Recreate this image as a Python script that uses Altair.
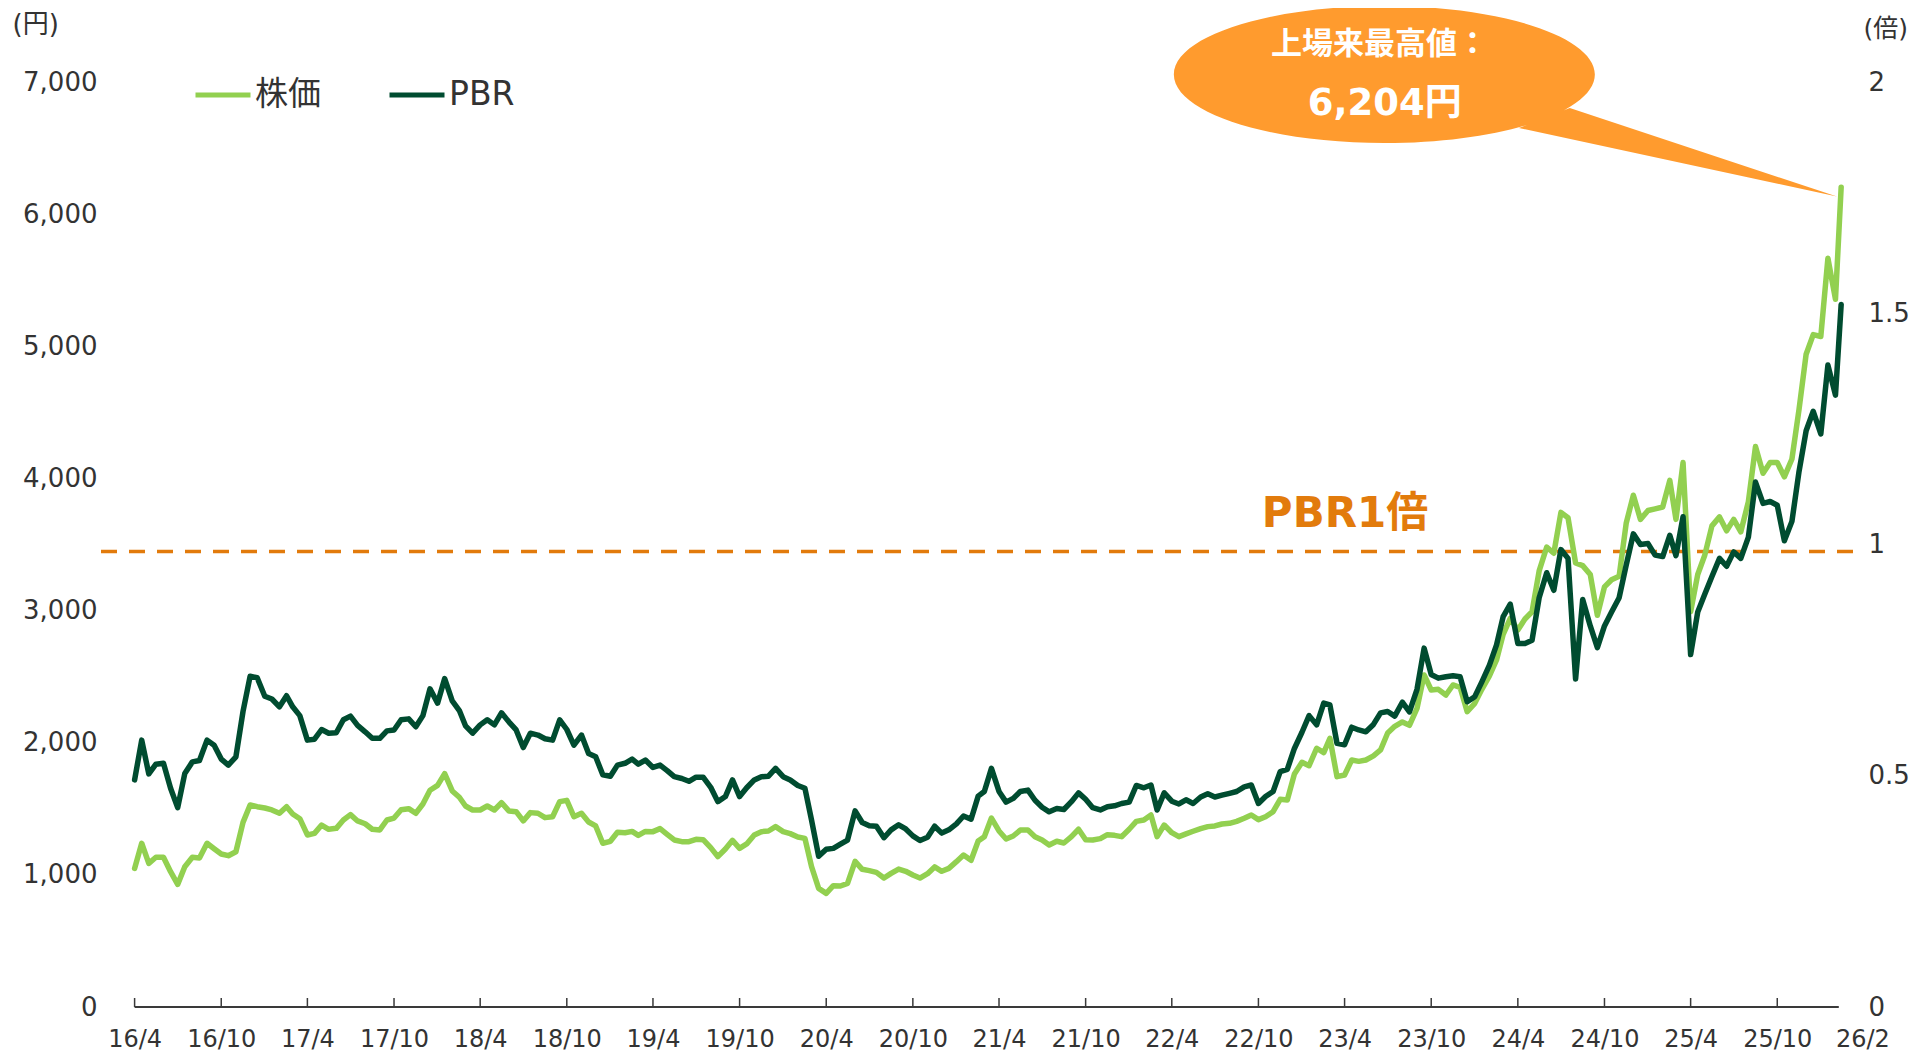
import altair as alt
import pandas as pd

# ---------------- data ----------------
# semi-monthly observations (1st and 16th of each month) from 2016-04-01, plus the last day
START_YEAR, START_MONTH = 2016, 4
LAST_DATE = "2026-02-13"

price = [
    1049, 1239, 1087, 1133, 1133, 1024, 928, 1062, 1133, 1128,
    1239, 1198, 1158, 1145, 1175, 1397, 1529, 1516, 1506, 1491,
    1466, 1516, 1461, 1425, 1302, 1314, 1377, 1345, 1352, 1415,
    1456, 1408, 1387, 1345, 1340, 1415, 1430, 1493, 1501, 1466,
    1536, 1640, 1677, 1766, 1635, 1587, 1521, 1491, 1491,
    1521, 1491, 1546, 1483, 1478, 1408, 1471, 1466, 1433, 1440,
    1554, 1564, 1440, 1466, 1400, 1370, 1239, 1254, 1322, 1319,
    1329, 1299, 1329, 1327, 1350, 1307, 1264, 1251, 1251, 1269,
    1266, 1206, 1138, 1196, 1261, 1201, 1234, 1302, 1327, 1332,
    1365, 1327, 1312, 1286, 1276, 1062, 898, 860, 918,
    916, 936, 1102, 1042, 1032, 1019, 976, 1011, 1044, 1027,
    999, 976, 1009, 1060, 1027, 1049, 1100, 1150, 1110, 1256,
    1289, 1430, 1332, 1271, 1294, 1339, 1339, 1289, 1264, 1226,
    1254, 1241, 1289, 1345, 1266, 1264, 1274, 1304, 1299, 1289,
    1345, 1405, 1415, 1453, 1289, 1377, 1319, 1289,
    1310, 1330, 1350, 1365, 1370, 1385, 1390, 1405,
    1428, 1453, 1418, 1440, 1478, 1572, 1567, 1763, 1852, 1826,
    1958, 1925, 2033, 1743, 1756, 1869, 1859, 1869, 1900, 1945,
    2074, 2124, 2157, 2132, 2260, 2513, 2399, 2404, 2361, 2437,
    2419, 2235, 2298, 2404, 2505, 2626, 2820, 2941, 2853, 2936,
    2991, 3300, 3480, 3434, 3743, 3703, 3360, 3340, 3273, 2964,
    3179, 3233, 3260, 3663, 3873, 3690, 3757, 3770, 3784, 3985,
    3690, 4120, 2991, 3273, 3421, 3641, 3709, 3604, 3690, 3596,
    3824, 4241, 4039, 4120, 4120, 4012, 4147, 4523, 4940, 5088,
    5074, 5666, 5356, 6204,
]

pbr = [
    0.491, 0.577, 0.504, 0.525, 0.527, 0.473, 0.431, 0.505, 0.530, 0.533,
    0.577, 0.566, 0.536, 0.523, 0.541, 0.639, 0.715, 0.712, 0.672, 0.666,
    0.649, 0.673, 0.649, 0.630, 0.577, 0.579, 0.600, 0.592, 0.593, 0.621,
    0.629, 0.609, 0.595, 0.581, 0.581, 0.597, 0.599, 0.621, 0.623, 0.606,
    0.630, 0.688, 0.657, 0.710, 0.662, 0.641, 0.608, 0.592, 0.610,
    0.621, 0.610, 0.636, 0.616, 0.599, 0.561, 0.592, 0.588, 0.580, 0.577,
    0.621, 0.600, 0.566, 0.588, 0.548, 0.541, 0.502, 0.499, 0.523, 0.527,
    0.536, 0.525, 0.534, 0.518, 0.523, 0.511, 0.498, 0.494, 0.488, 0.497,
    0.497, 0.475, 0.444, 0.455, 0.491, 0.455, 0.474, 0.491, 0.498, 0.499,
    0.516, 0.498, 0.491, 0.479, 0.473, 0.404, 0.326, 0.341, 0.343,
    0.352, 0.361, 0.424, 0.399, 0.392, 0.391, 0.366, 0.383, 0.394, 0.385,
    0.370, 0.360, 0.367, 0.391, 0.376, 0.383, 0.396, 0.413, 0.406, 0.456,
    0.466, 0.516, 0.466, 0.443, 0.451, 0.466, 0.469, 0.447, 0.432, 0.422,
    0.429, 0.427, 0.444, 0.463, 0.449, 0.431, 0.426, 0.433, 0.435, 0.440,
    0.443, 0.479, 0.474, 0.480, 0.426, 0.463, 0.445, 0.439,
    0.448, 0.440, 0.454, 0.461, 0.454, 0.458, 0.462, 0.466,
    0.476, 0.480, 0.440, 0.455, 0.466, 0.509, 0.514, 0.559, 0.594, 0.630,
    0.610, 0.657, 0.653, 0.570, 0.567, 0.605, 0.599, 0.595, 0.611, 0.636,
    0.639, 0.629, 0.659, 0.638, 0.687, 0.776, 0.719, 0.711, 0.714, 0.716,
    0.714, 0.660, 0.671, 0.703, 0.739, 0.783, 0.844, 0.871, 0.786, 0.786,
    0.793, 0.885, 0.939, 0.901, 0.989, 0.970, 0.709, 0.881, 0.824, 0.777,
    0.824, 0.854, 0.885, 0.956, 1.023, 1.000, 1.002, 0.977, 0.974, 1.020,
    0.976, 1.060, 0.762, 0.854, 0.893, 0.931, 0.970, 0.953, 0.984, 0.970,
    1.016, 1.135, 1.089, 1.093, 1.085, 1.008, 1.050, 1.158, 1.246, 1.288,
    1.239, 1.388, 1.323, 1.519,
]

series_names = ["株価", "PBR"]
left_ticks = [0, 1000, 2000, 3000, 4000, 5000, 6000, 7000]
right_ticks = [0, 0.5, 1, 1.5, 2]
pbr_line_value = 0.985          # dashed "PBR 1x" line, as drawn in the reference
annot_texts = ["上場来最高値：", "6,204円"]
pbr_label_text = "PBR1倍"

# ---------------- build tables ----------------
dates = []
for k in range(len(price) - 1):
    m = START_MONTH - 1 + k // 2
    dates.append(f"{START_YEAR + m // 12:04d}-{m % 12 + 1:02d}-{1 if k % 2 == 0 else 16:02d}")
dates.append(LAST_DATE)
assert len(dates) == len(price) == len(pbr)

price_df = pd.DataFrame({"date": dates, "value": price, "series": series_names[0]})
pbr_df = pd.DataFrame({"date": dates, "value": pbr, "series": series_names[1]})

tick_dates = [f"{y}-{m:02d}-01" for y in range(2016, 2026) for m in (4, 10)]
ticks_df = pd.DataFrame({"date": tick_dates})
label_dates = tick_dates + ["2026-02-01"]


def ms(s):
    return int(pd.Timestamp(s).value // 10**6)


X_DOMAIN = [ms("2016-01-02"), ms("2026-03-10")]
Y_PRICE = [0, 7560]
Y_PBR = [0, 2.16]

FONT = "DejaVu Sans, Noto Sans CJK JP"
TXT = "#333333"
LIGHT = "#92D050"
DARK = "#004C30"
ORANGE = "#E27B0C"
BUBBLE = "#FF9B2E"
LW = 5.5

x_axis = alt.Axis(
    values=[ms(d) for d in label_dates],
    labelExpr="utcFormat(datum.value, '%y/%-m')",
    ticks=False, domain=False, grid=False, labelOverlap=False, labelFlush=False,
    labelPadding=20, labelFontSize=24, labelFont=FONT, labelColor=TXT, title=None,
    labelAlign={"condition": {"test": "utcyear(datum.value) >= 2026", "value": "left"}, "value": "center"},
)


def X(field):
    return alt.X(f"{field}:T", scale=alt.Scale(domain=X_DOMAIN), axis=x_axis)


def Yp(field="value", axis=None):
    return alt.Y(f"{field}:Q", scale=alt.Scale(domain=Y_PRICE, nice=False, zero=True), axis=axis)


color = alt.Color(
    "series:N",
    scale=alt.Scale(domain=series_names, range=[LIGHT, DARK]),
    legend=alt.Legend(
        orient="none", legendX=101, legendY=57, direction="horizontal", title=None,
        symbolType="stroke", symbolSize=3025, symbolStrokeWidth=5,
        labelFontSize=33, labelFont=FONT, labelColor=TXT, columnPadding=58,
        padding=0, labelOffset=2,
    ),
)

left_axis = alt.Axis(
    values=left_ticks, labelExpr="format(datum.value, ',')",
    orient="left", ticks=False, domain=False, grid=False,
    labelPadding=-5, labelFontSize=26, labelFont=FONT, labelColor=TXT,
    title="(円)", titleAngle=0, titleX=-80, titleY=16, titleAlign="left", titleBaseline="middle",
    titleFontSize=26, titleFontWeight="normal", titleFont=FONT, titleColor=TXT,
)
right_axis = alt.Axis(
    values=right_ticks, labelExpr="format(datum.value, '~g')",
    orient="right", ticks=False, domain=False, grid=False,
    labelPadding=15, labelFontSize=26, labelFont=FONT, labelColor=TXT,
    title="(倍)", titleAngle=0, titleX=10, titleY=20, titleAlign="left", titleBaseline="middle",
    titleFontSize=25, titleFontWeight="normal", titleFont=FONT, titleColor=TXT,
)

H = 999

axis_df = pd.DataFrame({"start": ["2016-04-01"], "end": ["2026-02-08"]})
axis_line = alt.Chart(axis_df).mark_rule(color="#3a3a3a", strokeWidth=1.8).encode(
    x=X("start"), x2="end:T", y=alt.value(H)
)
tick_marks = alt.Chart(ticks_df).mark_rule(color="#3a3a3a", strokeWidth=1.5).encode(
    x=X("date"), y=alt.value(H), y2=alt.value(H - 9)
)

dashed = alt.Chart(pd.DataFrame({"v": [pbr_line_value]})).mark_rule(
    color=ORANGE, strokeWidth=3.5, strokeDash=[16, 12]
).encode(y=alt.Y("v:Q", scale=alt.Scale(domain=Y_PBR, nice=False), axis=None))

price_line = alt.Chart(price_df).mark_line(strokeWidth=LW, strokeJoin="round", strokeCap="round").encode(
    x=X("date"), y=Yp(axis=left_axis), color=color
)
pbr_line = alt.Chart(pbr_df).mark_line(strokeWidth=LW, strokeJoin="round", strokeCap="round").encode(
    x=X("date"),
    y=alt.Y("value:Q", scale=alt.Scale(domain=Y_PBR, nice=False, zero=True), axis=right_axis),
    color=color,
)

# speech bubble (ellipse + tail pointing at the record high)
BUBBLE_PATH = (
    "M-1,0 C-1,-0.1797 -0.5523,-0.3254 0,-0.3254 C0.5523,-0.3254 1,-0.1797 1,0 "
    "C1,0.1797 0.5523,0.3254 0,0.3254 C-0.5523,0.3254 -1,0.1797 -1,0 Z "
    "M0.881,0.159 L2.15,0.58 L0.639,0.254 Z"
)
bubble_df = pd.DataFrame({"date": ["2023-06-24"], "value": [7057]})
bubble = alt.Chart(bubble_df).mark_point(
    shape=BUBBLE_PATH, size=177241, filled=True, fill=BUBBLE, strokeWidth=0, opacity=1
).encode(x=X("date"), y=Yp())

t1_df = pd.DataFrame({"date": ["2023-06-14"], "value": [7280], "t": [annot_texts[0]]})
t2_df = pd.DataFrame({"date": ["2023-06-25"], "value": [6834], "t": [annot_texts[1]]})
txt1 = alt.Chart(t1_df).mark_text(
    font=FONT, fontSize=31, fontWeight="bold", color="white", baseline="middle", align="center"
).encode(x=X("date"), y=Yp(), text="t:N")
txt2 = alt.Chart(t2_df).mark_text(
    font=FONT, fontSize=37, fontWeight="bold", color="white", baseline="middle", align="center"
).encode(x=X("date"), y=Yp(), text="t:N")

pl_df = pd.DataFrame({"date": ["2023-04-02"], "value": [3731], "t": [pbr_label_text]})
pbr_label = alt.Chart(pl_df).mark_text(
    font=FONT, fontSize=42, fontWeight="bold", color=ORANGE, baseline="middle", align="center"
).encode(x=X("date"), y=Yp(), text="t:N")

chart = (
    alt.layer(axis_line, tick_marks, dashed, price_line, pbr_line, bubble, txt1, txt2, pbr_label)
    .resolve_scale(y="independent")
    .properties(
        width=1761, height=H,
        autosize=alt.AutoSizeParams(type="none"),
        padding={"left": 84, "top": 0, "right": 60, "bottom": 46},
        background="white",
    )
    .configure_view(stroke=None)
)

chart.save("out.html", embed_options={"renderer": "svg", "actions": False})
